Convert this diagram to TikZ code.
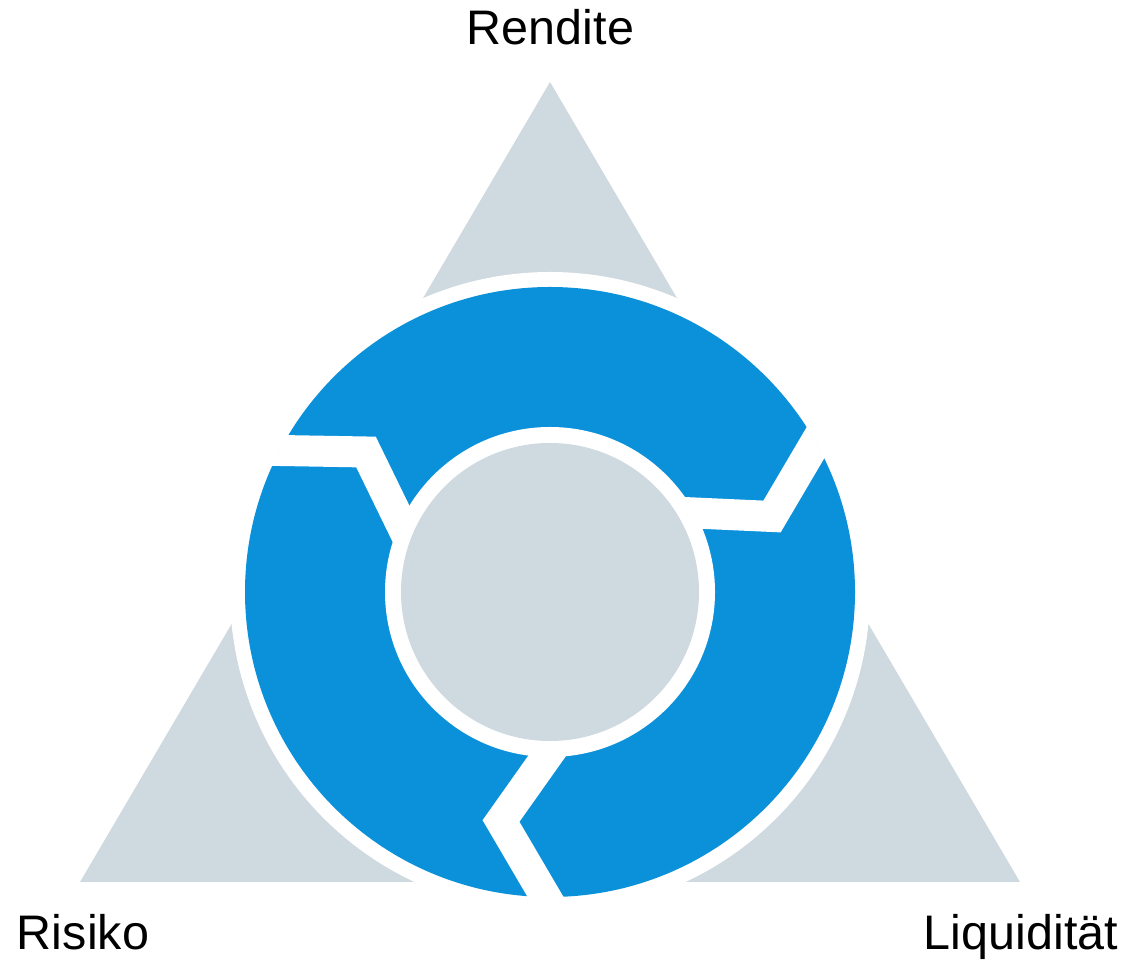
\documentclass[tikz,border=0pt]{standalone}
\usepackage{fontspec}
\setmainfont{Liberation Sans}
\usetikzlibrary{calc}
\definecolor{ringblue}{RGB}{11,145,218}
\definecolor{softgrey}{RGB}{207,217,224}
\tikzset{
  lbl/.style={inner sep=0pt, anchor=base, font=\fontsize{48.5}{58}\selectfont, text=black},
  gapline/.style={draw=white, line width=31pt, line join=miter, line cap=butt}
}
\begin{document}
\begin{tikzpicture}[x=1pt,y=1pt]
\useasboundingbox (0,0) rectangle (1126,963);
\coordinate (c) at (550,371);
% triangle
\fill[softgrey] (550,881) -- (80,81) -- (1020,81) -- cycle;
% white separation ring
\fill[white] (c) circle[radius=320pt];
% blue ring
\fill[ringblue] (c) circle[radius=305pt];
% chevron gaps
\coordinate (a1) at (366,511);
\coordinate (a2) at (772,446.5);
\coordinate (a3) at (501,142);
\begin{scope}
  \clip (c) circle[radius=305.5pt];
  \draw[gapline] ($(a1)+(179:130pt)$) -- (a1) -- ($(a1)+(296:110pt)$);
  \draw[gapline] ($(a2)+(59.5:130pt)$) -- (a2) -- ($(a2)+(177.4:110pt)$);
  \draw[gapline] ($(a3)+(300.4:130pt)$) -- (a3) -- ($(a3)+(54.7:110pt)$);
\end{scope}
% inner white and grey disks
\fill[white] (c) circle[radius=165pt];
\fill[softgrey] (c) circle[radius=149pt];
% labels
\node[lbl] (rendite) at (550.5,918) {Rendite};
\node[lbl] (risiko) at (83,13) {Risiko};
\node[lbl] (liq) at (1021,13) {Liquidität};
\end{tikzpicture}
\end{document}
